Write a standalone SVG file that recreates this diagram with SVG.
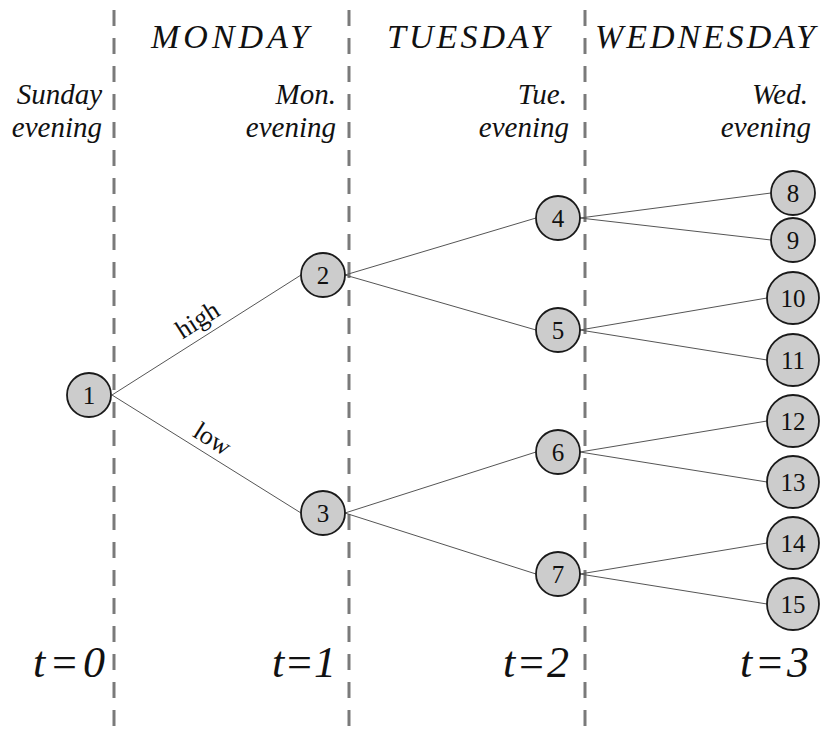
<svg xmlns="http://www.w3.org/2000/svg" width="823" height="734" viewBox="0 0 823 734">
<style>
.sep{stroke:#7a7a7a;stroke-width:3;stroke-dasharray:16 12;fill:none}
.edge{stroke:#555;stroke-width:1;fill:none}
.node circle{fill:#cccccc;stroke:#1a1a1a;stroke-width:1.8}
.node text{font-family:"Liberation Serif","DejaVu Serif",serif;font-size:25px;text-anchor:middle;dominant-baseline:central;fill:#111}
.hdr{font-family:"Liberation Serif","DejaVu Serif",serif;font-style:italic;font-size:34px;fill:#111}
.eve{font-family:"Liberation Serif","DejaVu Serif",serif;font-style:italic;font-size:29px;fill:#111;text-anchor:end}
.tl{font-family:"Liberation Serif","DejaVu Serif",serif;font-style:italic;font-size:44px;fill:#111}
.lbl{font-family:"Liberation Serif","DejaVu Serif",serif;font-size:26px;fill:#111;text-anchor:middle}
</style>
<g id="separators">
<line class="sep" x1="114" y1="10" x2="114" y2="734"/>
<line class="sep" x1="349" y1="10" x2="349" y2="734"/>
<line class="sep" x1="585" y1="10" x2="585" y2="734"/>
</g>
<g id="headers">
<text class="hdr" x="151" y="48" textLength="158" lengthAdjust="spacing">MONDAY</text>
<text class="hdr" x="387" y="48" textLength="162" lengthAdjust="spacing">TUESDAY</text>
<text class="hdr" x="595" y="48" textLength="220" lengthAdjust="spacing">WEDNESDAY</text>
<text class="eve" x="102" y="104">Sunday</text>
<text class="eve" x="102" y="137">evening</text>
<text class="eve" x="336" y="104">Mon.</text>
<text class="eve" x="336" y="137">evening</text>
<text class="eve" x="567" y="104">Tue.</text>
<text class="eve" x="569" y="137">evening</text>
<text class="eve" x="808" y="104">Wed.</text>
<text class="eve" x="811" y="137">evening</text>
<text class="tl" x="33" y="677" textLength="72" lengthAdjust="spacing">t=0</text>
<text class="tl" x="272" y="677" textLength="64" lengthAdjust="spacing">t=1</text>
<text class="tl" x="503" y="677" textLength="66" lengthAdjust="spacing">t=2</text>
<text class="tl" x="740" y="677" textLength="69" lengthAdjust="spacing">t=3</text>
</g>
<g id="connectors">
<line class="edge" x1="112" y1="395" x2="301" y2="275"/>
<line class="edge" x1="112" y1="395" x2="301" y2="513"/>
<line class="edge" x1="345" y1="275" x2="536" y2="218"/>
<line class="edge" x1="345" y1="275" x2="536" y2="330"/>
<line class="edge" x1="345" y1="513" x2="536" y2="452"/>
<line class="edge" x1="345" y1="513" x2="536" y2="574"/>
<line class="edge" x1="580" y1="218" x2="771" y2="193"/>
<line class="edge" x1="580" y1="218" x2="771" y2="240"/>
<line class="edge" x1="580" y1="330" x2="767" y2="298"/>
<line class="edge" x1="580" y1="330" x2="767" y2="360"/>
<line class="edge" x1="580" y1="452" x2="767" y2="421"/>
<line class="edge" x1="580" y1="452" x2="767" y2="482"/>
<line class="edge" x1="580" y1="574" x2="767" y2="543"/>
<line class="edge" x1="580" y1="574" x2="767" y2="604"/>
<text class="lbl" transform="translate(202,327) rotate(-32.4)">high</text>
<text class="lbl" transform="translate(208,446) rotate(32)">low</text>
</g>
<g id="n1" class="node"><circle cx="89" cy="395" r="22"/><text x="89" y="395">1</text></g>
<g id="n2" class="node"><circle cx="323" cy="275" r="22"/><text x="323" y="275">2</text></g>
<g id="n3" class="node"><circle cx="323" cy="513" r="22"/><text x="323" y="513">3</text></g>
<g id="n4" class="node"><circle cx="558" cy="218" r="22"/><text x="558" y="218">4</text></g>
<g id="n5" class="node"><circle cx="558" cy="330" r="22"/><text x="558" y="330">5</text></g>
<g id="n6" class="node"><circle cx="558" cy="452" r="22"/><text x="558" y="452">6</text></g>
<g id="n7" class="node"><circle cx="558" cy="574" r="22"/><text x="558" y="574">7</text></g>
<g id="n8" class="node"><circle cx="793" cy="193" r="22"/><text x="793" y="193">8</text></g>
<g id="n9" class="node"><circle cx="793" cy="240" r="22"/><text x="793" y="240">9</text></g>
<g id="n10" class="node"><circle cx="793" cy="298" r="26"/><text x="793" y="298">10</text></g>
<g id="n11" class="node"><circle cx="793" cy="360" r="26"/><text x="793" y="360">11</text></g>
<g id="n12" class="node"><circle cx="793" cy="421" r="26"/><text x="793" y="421">12</text></g>
<g id="n13" class="node"><circle cx="793" cy="482" r="26"/><text x="793" y="482">13</text></g>
<g id="n14" class="node"><circle cx="793" cy="543" r="26"/><text x="793" y="543">14</text></g>
<g id="n15" class="node"><circle cx="793" cy="604" r="26"/><text x="793" y="604">15</text></g>
</svg>
